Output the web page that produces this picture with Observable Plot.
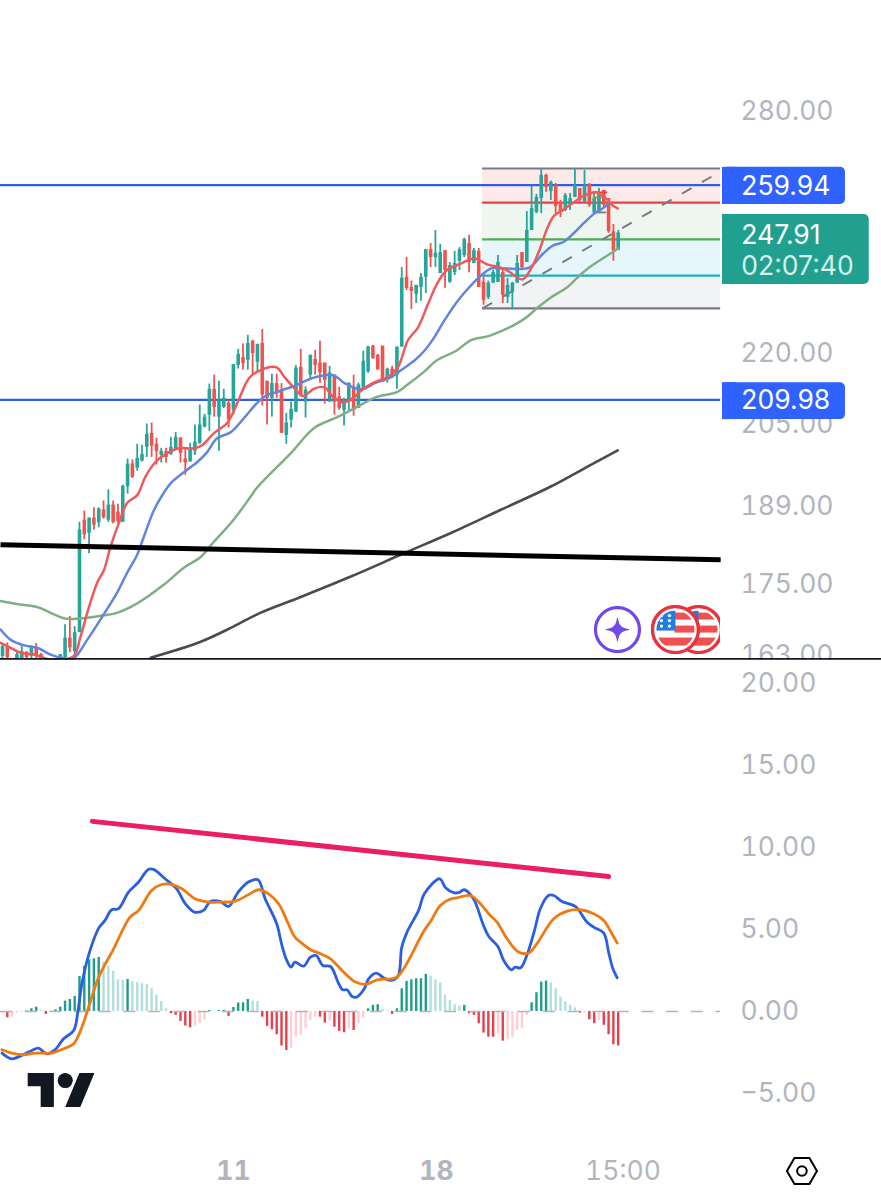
<!DOCTYPE html>
<html><head><meta charset="utf-8">
<style>html,body{margin:0;padding:0;background:#fff}svg{display:block}</style>
<script src="https://cdn.jsdelivr.net/npm/d3@7"></script>
<script src="https://cdn.jsdelivr.net/npm/@observablehq/plot@0.6"></script>
</head><body>
<div id="chart"></div>
<script>
// ---------- candles: [bar, open, high, low, close]
const candles = [
[-16,162.7,164.6,162.2,164.3],[-15,164.3,164.9,162.2,162.5],[-13,162.2,163.5,162.2,163.0],[-12,162.2,164.6,162.2,163.5],
[-11,163.3,163.5,162.2,162.5],[-10,162.7,164.4,162.2,164.3],[-9,164.1,164.8,162.2,162.8],[-8,163.0,163.2,162.2,162.2],
[-4,162.2,163.0,162.2,163.0],[-3,162.5,167.9,162.2,165.7],[-2,165.7,169.3,163.3,164.1],[-1,163.5,167.6,162.5,166.6],
[0,166.6,185.9,166.6,184.5],[1,186.3,188.0,182.7,183.6],[2,183.9,186.7,180.2,186.7],[3,186.7,188.6,184.5,185.4],
[4,185.8,188.6,184.9,188.4],[5,188.2,189.9,186.5,186.7],[6,186.3,192.0,185.9,189.1],[7,189.1,189.9,185.6,185.9],
[8,187.8,189.3,185.7,186.1],[9,185.9,192.9,185.9,192.7],[10,192.6,198.0,191.2,197.0],[11,197.0,197.8,194.2,194.4],
[12,196.2,200.9,195.6,198.1],[13,197.6,200.7,197.4,198.9],[14,200.3,205.0,198.3,202.9],[15,203.1,205.2,198.3,200.5],
[16,200.9,202.1,196.8,199.5],[17,198.7,200.1,197.2,199.5],[18,199.5,200.1,197.2,198.3],[19,198.9,202.3,198.7,200.3],
[20,199.9,203.3,199.7,202.3],[21,202.1,202.3,197.2,199.1],[22,198.0,200.1,194.8,197.2],[23,197.4,201.1,197.4,200.1],
[24,199.5,204.8,198.7,201.3],[25,201.1,208.9,200.9,204.8],[26,204.4,207.0,204.2,206.4],[27,206.8,213.3,203.5,212.2],
[28,212.2,215.2,206.4,208.4],[29,206.4,213.9,199.5,209.9],[30,208.4,212.2,208.2,210.3],[31,209.3,209.9,204.2,205.8],
[32,207.8,217.5,206.8,217.5],[33,217.3,220.8,216.5,219.7],[34,219.0,222.0,216.3,217.7],[35,218.4,223.9,216.3,222.1],
[36,222.6,222.8,215.2,219.9],[37,218.0,221.9,215.9,221.9],[38,222.1,225.2,208.7,211.0],[39,213.9,213.9,204.8,210.3],
[40,210.3,215.4,206.4,213.4],[41,213.4,215.4,210.3,211.4],[42,212.0,213.4,203.1,203.1],[43,202.7,207.2,200.9,205.2],
[44,205.8,209.5,204.2,208.0],[45,207.4,217.3,207.4,216.7],[46,216.9,220.8,210.6,211.0],[47,209.5,212.7,206.2,212.0],
[48,215.2,219.5,214.5,219.5],[49,218.6,220.6,215.2,217.3],[50,217.8,222.6,213.5,215.7],[51,217.8,217.8,209.1,214.1],
[52,209.5,217.1,209.5,215.7],[53,215.2,215.2,206.8,209.5],[54,210.6,212.6,207.8,208.2],[55,207.8,210.3,204.6,209.9],
[56,209.5,213.5,207.8,213.5],[57,212.6,215.2,206.6,207.8],[58,208.2,213.5,208.2,213.1],[59,212.4,220.4,212.4,218.2],
[60,215.9,221.5,215.6,221.3],[61,221.5,221.7,218.6,218.8],[62,219.5,219.7,216.3,216.3],[63,221.5,221.5,213.7,213.7],
[64,214.5,216.7,213.5,216.5],[65,216.5,217.1,214.5,214.8],[66,215.2,221.3,212.2,221.3],[67,221.3,239.5,221.3,237.0],
[68,237.2,241.9,234.1,234.6],[69,234.8,236.3,229.7,233.9],[70,233.2,235.3,231.1,235.3],[71,234.8,238.1,231.6,237.2],
[72,237.2,243.8,233.4,243.8],[73,243.8,245.3,239.5,241.9],[74,241.9,248.5,239.5,242.9],[75,238.1,245.1,238.1,243.1],
[76,243.6,243.6,234.6,238.8],[77,236.0,240.7,235.8,240.0],[78,238.3,243.4,237.6,240.5],[79,241.0,244.3,238.8,243.8],
[80,242.4,246.6,241.9,246.3],[81,245.3,247.3,238.3,240.7],[82,240.5,244.1,240.5,243.6],[83,243.4,244.1,234.8,234.8],
[84,236.0,237.6,230.7,231.8],[85,232.5,236.3,232.0,235.8],[86,235.8,238.8,235.8,238.3],[87,236.0,242.4,236.0,240.7],
[88,238.3,239.3,231.1,233.0],[89,232.5,236.9,231.1,235.3],[90,233.6,236.0,229.7,235.8],[91,235.8,242.4,235.8,240.5],
[92,243.1,243.1,239.3,239.5],[93,240.7,253.2,240.7,248.5],[94,248.5,259.7,248.5,254.0],[95,253.0,257.6,252.7,256.8],
[96,256.5,264.3,252.7,262.5],[97,262.5,262.8,258.1,259.4],[98,258.3,261.0,256.0,260.7],[99,259.9,260.4,252.7,254.5],
[100,255.5,256.0,251.7,253.2],[101,253.5,257.8,253.2,257.3],[102,254.8,257.8,253.5,256.5],[103,256.8,264.3,256.8,259.9],
[104,259.1,259.1,255.5,256.0],[105,255.7,263.8,255.5,259.9],[106,260.1,260.4,254.3,254.8],[107,253.0,258.1,253.0,256.5],
[108,253.0,259.1,253.0,257.8],[109,258.6,258.6,254.3,254.8],[110,256.5,256.5,247.8,248.2],[111,248.2,250.0,241.0,243.6],
[112,243.6,248.5,243.6,247.91]
].map(([bar,open,high,low,close])=>({bar,open,high,low,close}));

// ---------- moving averages: [bar, price]
const emaFast = [[-16.4,164.9],[-14.3,164.1],[-12.3,163.3],[-9.5,163.0],[-6,162.2],[-1.3,162.7],[.2,165.9],[1.9,170.7],[3.7,175.1],[5.1,177.3],[6.4,181.3],[8.2,185.8],[9.9,189.5],[12,191.0],[13.7,194.5],[15.8,197.4],[18.2,199.1],[20.7,200.1],[23.8,200.1],[25.5,200.7],[27.9,203.1],[30.7,205.2],[32.8,209.3],[35.2,214.5],[36.9,215.9],[40.9,216.9],[42.6,214.8],[44.7,212.4],[46.5,210.8],[48.9,212.4],[51,212.6],[52.7,210.6],[55.1,209.5],[57.2,210.6],[58.6,212.0],[61.4,213.7],[64.1,214.8],[66.2,216.9],[68.3,222.8],[70.4,225.7],[72.5,231.1],[74.5,236.0],[76.3,238.8],[79.4,240.5],[82.1,241.7],[84.9,240.2],[87.6,239.5],[89,238.8],[92.1,236.7],[93.9,239.3],[95.6,243.6],[97.3,249.2],[98.7,252.2],[100.4,253.5],[102.5,255.3],[105,257.3],[107.4,258.1],[109.5,256.5],[110.8,254.8],[111.9,254.0]];
const emaMid = [[-16.4,167.1],[-14.3,165.4],[-11.5,164.5],[-8.8,164.1],[-6,163.0],[-3.3,162.4],[-1.2,162.4],[1.6,165.4],[5,169.6],[7.8,173.3],[9.9,176.8],[12,180.0],[13.4,183.3],[15.5,188.2],[17.5,191.4],[19,193.3],[21.7,195.4],[24.5,197.4],[26.5,199.3],[28.6,202.1],[31.4,203.3],[34.2,206.2],[36.9,209.3],[39,211.0],[41.1,211.6],[42,212.0],[44.7,212.9],[48.2,214.5],[52.7,215.2],[55.1,213.5],[58.6,212.2],[61.4,213.5],[64.8,214.8],[66.9,216.3],[69.7,218.4],[71.8,220.6],[73.8,223.5],[75.9,227.3],[78.7,231.8],[81.4,235.3],[83.5,237.6],[85.6,239.3],[88.3,239.3],[93.5,239.5],[96,242.4],[98.4,244.8],[100.5,245.6],[102.9,248.0],[105,250.5],[107,252.7],[109.1,254.3],[110,255.3]];
const emaSlow = [[-16.4,171.9],[-13,171.4],[-8.8,170.9],[-6,169.9],[-3.3,169.0],[-.5,168.9],[4.4,169.4],[7.8,169.9],[12,171.5],[17.5,174.7],[21.7,177.7],[25.2,179.6],[27.9,182.3],[31.7,186.0],[35.5,190.6],[36.9,192.4],[43.9,199.1],[48.8,204.2],[53.6,206.4],[58.4,208.9],[61.8,210.6],[66,211.6],[68.1,213.1],[71.6,215.9],[74.3,218.4],[78.5,220.6],[81.3,222.8],[85.5,223.9],[92.1,227.3],[95.3,230.2],[98,232.5],[101.1,234.6],[103.6,237.2],[105.7,239.3],[109.1,241.9],[112,244.1]];
const emaLong = [[14.8,162.5],[25.2,165.1],[32,167.6],[37.6,169.9],[46,172.6],[56.3,176.1],[67.8,180.4],[77.1,183.9],[87.5,188.2],[97.9,192.6],[106.2,196.8],[111.9,199.7]];

// ---------- price drawings
const barMin = -16.42, barFrameEnd = 135.14, barPageEnd = 166.74, barDrawEnd = 133.3;
const priceTicks = [280,220,205,189,175,163];
const levels = [259.94,209.98];
const trendBlack = [[barMin,181.8],[barDrawEnd,179.1]];
const fibStart = 83.8, fibEnd = 133.3;
const fibPrices = [264.3,255.5,246.3,237.6,230.0];
const fibStrokes = ["#787b86","#e8404a","#4caf50","#14b2c2","#787b86"];
const fibFills = ["#fee9e9","#eff6ef","#e6f6fb","#f2f3f5"];
const fibTrend = [[83.8,230.0],[133.0,263.3]];
const miniFib = [[106.8,109.8,258.1,"#e8404a"],[106.8,109.6,256.8,"#8f9a3c"],[106.8,109.6,253.0,"#787b86"]];
const tagStart = 133.68, tagBlueEnd = 159.25, tagGreenEnd = 164.2, tagText = 137.6;
const tagRanges = [[264.6,255.0,"#2f62ff",tagBlueEnd],[213.6,205.9,"#2f62ff",tagBlueEnd],[252.5,235.5,"#22a08f",tagGreenEnd]];
const tagTexts = [[259.94,"259.94","#fff"],[209.98,"209.98","#fff"],[247.6,"247.91","#fff"],[240.0,"02:07:40","#d6f0ec"]];

// ---------- MACD: [bar, value]
const macdLine = [[-16.1,-2.54],[-14.1,-2.89],[-12,-2.68],[-9.9,-2.38],[-8.5,-2.24],[-6.8,-2.58],[-5.1,-2.34],[-3.3,-1.67],[-1.2,-1.16],[-.3,.06],[.5,1.69],[2.2,3.72],[4,5.08],[5.3,5.55],[6.7,6.2],[8.1,6.26],[10.2,7.28],[12.3,7.89],[14.3,8.66],[15.4,8.66],[17.8,8.09],[20.2,7.48],[22,6.57],[23.9,6.06],[25.8,6.16],[27.2,6.71],[29.2,6.71],[31,6.4],[33,7.28],[35.1,7.89],[37.1,8.03],[38.6,6.87],[41,5.35],[42.1,4.02],[43.1,3.11],[44,2.7],[44.8,3.01],[46.6,2.76],[48,3.31],[49.2,3.41],[50.6,2.8],[52.2,2.74],[53.9,1.69],[54.7,1.32],[55.6,1.32],[56.7,.91],[57.6,.87],[59.2,1.38],[60.1,1.99],[61.7,2.34],[63.2,2.05],[64.6,1.89],[66.2,2.13],[67,3.92],[68.1,4.84],[70.5,6.16],[71.7,7.17],[74.9,8.09],[76.1,7.54],[77.8,7.24],[78.8,7.24],[80,7.42],[81.9,6.87],[84,5.24],[85.1,4.57],[87,3.96],[88.2,3.11],[89.8,2.54],[90.6,2.7],[91.7,2.66],[93,3.41],[94.6,4.94],[95.8,6.26],[97.5,7.07],[98.6,7.07],[100.3,6.71],[103.1,6.4],[105.5,5.45],[106.9,5.14],[109,4.78],[110,3.62],[110.9,2.6],[111.8,2.05]];
const signalLine = [[-16.1,-2.34],[-14.1,-2.54],[-11.6,-2.64],[-9.2,-2.54],[-5.8,-2.54],[-3.3,-2.28],[-1.2,-1.97],[.5,-.96],[1.9,.26],[4,2.09],[7.1,3.82],[10.5,5.75],[12.3,6.16],[15,7.38],[17.1,7.74],[19.2,7.74],[21.3,7.48],[24,6.87],[26.8,6.67],[29.6,6.67],[32.4,6.73],[35.1,7.11],[37.2,7.42],[39.3,7.17],[41.4,6.57],[43.4,5.35],[44.8,4.53],[47.3,3.92],[48,3.76],[50.1,3.52],[52.2,3.21],[54.9,2.4],[57.4,1.79],[59.4,1.65],[61.9,1.93],[65.7,2.05],[67.4,2.6],[71.6,4.9],[73,5.49],[75,6.46],[76.8,6.81],[78.5,6.93],[81.3,7.07],[83,6.67],[85.4,5.85],[86.8,5.45],[88.9,4.43],[91.3,3.62],[93.4,3.56],[95.1,4.13],[98.6,5.65],[101.4,6.12],[104.1,6.2],[106.9,5.96],[109,5.55],[110.7,4.74],[111.8,4.17]];
// histogram: bars -16..112. kinds: g dark green, l light green, r dark red, p pink
const histBars = d3.range(-16,113);
const histValues = [-.1,-.39,-.35,-.1,-.05,.03,.16,.26,.06,-.18,.02,.1,.26,.63,.73,.91,2.13,2.76,3.15,3.21,3.29,3.0,2.76,2.44,1.93,1.89,1.95,1.83,1.75,1.69,1.65,1.38,.98,.61,.16,-.14,-.24,-.61,-.89,-1.0,-.91,-.75,-.51,.06,.03,.06,.06,-.3,.24,.51,.53,.73,.63,.61,-.35,-.91,-1.12,-1.42,-2.11,-2.38,-2.28,-1.56,-1.46,-1.06,-.55,-.35,-.35,-.71,-.6,-.96,-1.22,-1.3,-1.06,-1.16,-.75,-.41,.16,.37,.41,.12,.05,-.18,.16,1.38,1.83,1.93,1.99,1.99,2.26,2.15,1.93,1.73,.98,.67,.41,.33,.37,-.14,-.24,-.75,-1.32,-1.57,-1.57,-1.36,-1.81,-1.71,-1.57,-1.16,-1.06,-.24,.53,1.14,1.79,1.85,1.73,1.38,.87,.59,.37,.22,-.1,-.1,-.51,-.75,-.55,-.85,-1.42,-2.03,-2.11];
const histKinds = ["prppp","ggg","l","r","l","ggggg","ggggg","lllll","g","llllllll","rrrrr","ppp","g","l","gg","r","gggg","ll","rrrrrr","pppppp","rr","p","rrr","p","r","pp","ggg","ll","r","ggggggg","lllllll","g","rrrrrr","p","r","ppppp","gggg","llllll","r","p","rr","p","rrrr"].join("");
const histColor = {g:"#1f9d8a",l:"#b2dfdb",r:"#e5404b",p:"#ffcdd2"};
const macdTicks = [20,15,10,5,0,-5];
const divergence = [[2.7,11.59],[110,8.23]];

const tickColor = "#b2b5be", font = "Inter, 'Noto Sans', sans-serif", fs = 26.5;
const priceFmt = d => d.toFixed(2).replace("-", "\u2212");
const xy = a => a.map(([bar,v]) => ({bar,v}));
const svgUri = s => "data:image/svg+xml," + encodeURIComponent(s);

const starIcon = svgUri(`<svg xmlns="http://www.w3.org/2000/svg" viewBox="0 0 48 48"><circle cx="24" cy="24" r="22" fill="#fff" stroke="#7048f0" stroke-width="3.2"/><path d="M24 12.5C25 20 28 23 35.5 24 28 25 25 28 24 35.5 23 28 20 25 12.5 24 20 23 23 20 24 12.5Z" fill="#7048f0" stroke="#7048f0" stroke-width="1"/></svg>`);
const flagBody = id => `<defs><clipPath id="${id}"><circle cx="25" cy="25" r="19"/></clipPath></defs><circle cx="25" cy="25" r="23" fill="#fff" stroke="#e8333f" stroke-width="3.4"/><g clip-path="url(#${id})"><rect x="24" y="8" width="22" height="7" fill="#f0504f"/><rect x="24" y="21" width="22" height="7" fill="#f0504f"/><rect x="4" y="33" width="42" height="8" fill="#f0504f"/><rect x="4" y="6" width="21" height="20" fill="#1e7fe0"/><g fill="#fff"><circle cx="11" cy="11" r="1.7"/><circle cx="19" cy="11" r="1.7"/><circle cx="11" cy="16" r="1.7"/><circle cx="19" cy="16" r="1.7"/><circle cx="11" cy="21.5" r="1.7"/><circle cx="19" cy="21.5" r="1.7"/></g></g>`;
const flagFront = svgUri(`<svg xmlns="http://www.w3.org/2000/svg" viewBox="0 0 50 50">${flagBody("a")}</svg>`);
const flagBack = svgUri(`<svg xmlns="http://www.w3.org/2000/svg" viewBox="0 0 50 50"><defs><clipPath id="c"><rect x="0" y="0" width="46.5" height="50"/></clipPath></defs><g clip-path="url(#c)">${flagBody("b")}</g></svg>`);
const tvLogo = svgUri(`<svg xmlns="http://www.w3.org/2000/svg" viewBox="0 4 35.5 18" preserveAspectRatio="none"><path fill="#131722" d="M14 22H7V11H0V4h14v18zM28 22h-8l7.5-18h8L28 22z"/><circle fill="#131722" cx="20" cy="8" r="4"/></svg>`);
const hexIcon = svgUri(`<svg xmlns="http://www.w3.org/2000/svg" viewBox="0 0 34 30"><path d="M9.5 2H24.5L32 15 24.5 28H9.5L2 15Z" fill="none" stroke="#000" stroke-width="2"/><circle cx="17" cy="15" r="4.8" fill="none" stroke="#000" stroke-width="2"/></svg>`);

const upC = "#26a69a", dnC = "#ef5350";
const cColor = d => d.close >= d.open ? upC : dnC;
const ema = (a, stroke, strokeWidth) => Plot.line(xy(a),{x:"bar", y:"v", stroke, strokeWidth, curve:"catmull-rom"});

const pricePlot = Plot.plot({
  width:881, height:660, marginTop:0, marginLeft:0, marginRight:152, marginBottom:0,
  style:{fontFamily:font, background:"#fff"},
  x:{domain:[barMin,barFrameEnd], axis:null},
  y:{type:"log", domain:[162.04,312.35]},
  marks:[
    Plot.axisY(priceTicks,{anchor:"right", tickSize:0, tickPadding:11, dy:1, tickFormat:priceFmt, fontSize:fs, color:tickColor, label:null}),
    Plot.rect(fibFills,{x1:()=>fibStart, x2:()=>fibEnd, y1:(d,i)=>fibPrices[i], y2:(d,i)=>fibPrices[i+1], fill:d=>d}),
    Plot.ruleY(levels,{x1:barMin, x2:barDrawEnd, stroke:"#2f5fe8", strokeWidth:2.2}),
    Plot.ruleY(fibPrices,{x1:fibStart, x2:fibEnd, stroke:(d,i)=>fibStrokes[i], strokeWidth:2.2}),
    Plot.line(xy(fibTrend),{x:"bar", y:"v", stroke:"#787b86", strokeWidth:2, strokeDasharray:"11 12", strokeLinecap:"butt"}),
    Plot.ruleX(candles,{x:"bar", y1:"low", y2:"high", stroke:cColor, strokeWidth:1.8}),
    Plot.ruleX(candles,{x:"bar", y1:"open", y2:"close", stroke:cColor, strokeWidth:3.6}),
    Plot.ruleY(miniFib,{x1:d=>d[0], x2:d=>d[1], y:d=>d[2], stroke:d=>d[3], strokeWidth:1.8}),
    ema(emaSlow,"#80ae84",2.5),
    ema(emaMid,"#6485dc",2.5),
    ema(emaFast,"#ee5a5c",2.5),
    ema(emaLong,"#4a4a4f",2.6),
    Plot.line(xy(trendBlack),{x:"bar", y:"v", stroke:"#000", strokeWidth:5, strokeLinecap:"butt"}),
    // price tags
    Plot.rect(tagRanges,{x1:()=>tagStart, x2:d=>d[3], y1:d=>d[0], y2:d=>d[1], fill:d=>d[2], rx:5}),
    Plot.rect(tagRanges,{x1:()=>tagStart, x2:()=>tagStart+3, y1:d=>d[0], y2:d=>d[1], fill:d=>d[2]}),
    Plot.text(tagTexts,{x:()=>tagText, y:d=>d[0], text:d=>d[1], fill:d=>d[2], fontSize:fs, textAnchor:"start", dy:1}),
    // marker icons
    Plot.image([[128.7,flagBack],[123.9,flagFront]],{x:d=>d[0], y:()=>167.1, src:d=>d[1], width:50, height:50}),
    Plot.image([111.85],{x:d=>d, y:()=>167.1, src:()=>starIcon, width:48, height:48}),
    Plot.ruleY([162.3],{x1:barMin, x2:barPageEnd, stroke:"#131722", strokeWidth:1.8})
  ]
});

const macdPlot = Plot.plot({
  width:881, height:540, marginTop:0, marginLeft:0, marginRight:152, marginBottom:40,
  style:{fontFamily:font, background:"#fff"},
  x:{domain:[barMin,barFrameEnd], axis:null},
  y:{domain:[-9.09,21.40]},
  marks:[
    Plot.axisY(macdTicks,{anchor:"right", tickSize:0, tickPadding:11, tickFormat:priceFmt, fontSize:fs, color:tickColor, label:null}),
    Plot.axisX([32,74.2],{anchor:"bottom", tickSize:0, tickPadding:1, tickFormat:d=>d===32?"11":"18", fontSize:fs, fontWeight:700, color:tickColor, label:null}),
    Plot.axisX([113],{anchor:"bottom", tickSize:0, tickPadding:1, tickFormat:()=>"15:00", fontSize:fs, color:tickColor, label:null}),
    Plot.ruleX(histBars,{x:d=>d, y1:()=>0, y2:(d,i)=>histValues[i], stroke:(d,i)=>histColor[histKinds[i]], strokeWidth:2.4}),
    Plot.ruleY([0],{x1:barMin, x2:barDrawEnd, stroke:"#b2b5be", strokeWidth:1.6, strokeDasharray:"12 12.67"}),
    ema(macdLine,"#2b5fe0",2.8),
    ema(signalLine,"#ef7a12",2.8),
    Plot.line(xy(divergence),{x:"bar", y:"v", stroke:"#e91e63", strokeWidth:5, strokeLinecap:"round"}),
    Plot.image([-3.85],{x:d=>d, y:()=>-4.79, src:()=>tvLogo, width:67, height:34, preserveAspectRatio:"none"}),
    Plot.image([150.2],{x:d=>d, y:()=>-9.73, src:()=>hexIcon, width:34, height:30})
  ]
});

document.getElementById("chart").append(pricePlot, macdPlot);
</script>
</body></html>
